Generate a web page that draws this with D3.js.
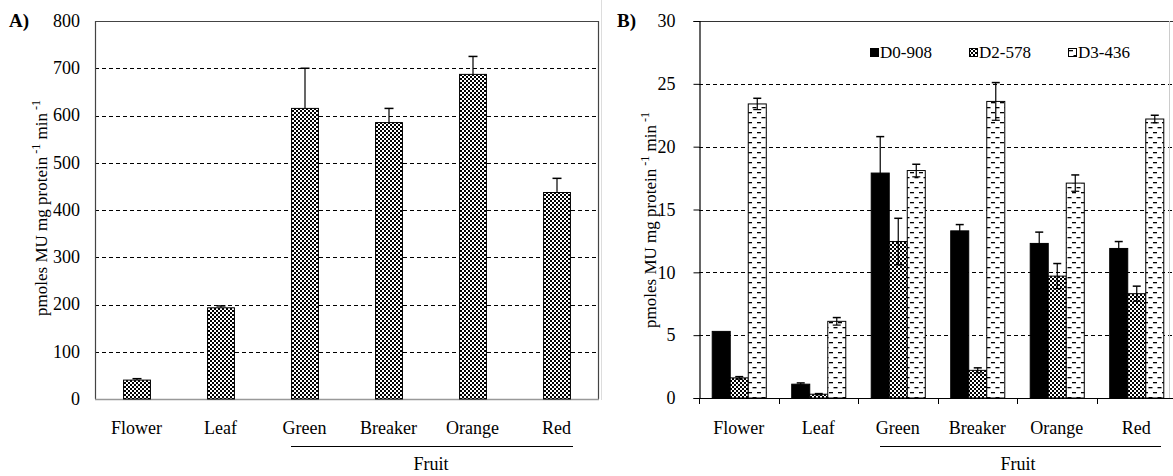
<!DOCTYPE html>
<html>
<head>
<meta charset="utf-8">
<script src="https://cdn.jsdelivr.net/npm/d3@7"></script>
<style>
  body { margin: 0; background: #fff; }
  svg { display: block; font-family: "Liberation Serif", "Times New Roman", serif; }
</style>
</head>
<body>
<svg width="1173" height="476"></svg>
<script>
// categories
const categories = ["Flower", "Leaf", "Green", "Breaker", "Orange", "Red"];

// panel A values
const valuesA = [40, 193, 615, 585, 687, 437];
const errorsA = [3, 4, 85, 30, 38, 30];
const ticksA = [0, 100, 200, 300, 400, 500, 600, 700, 800];

// panel B series
const seriesB = ["D0-908", "D2-578", "D3-436"];
const valuesD0 = [5.3, 1.1, 17.9, 13.3, 12.3, 11.9];
const errorsD0 = [0, 0.1, 2.9, 0.5, 0.9, 0.55];
const valuesD2 = [1.6, 0.3, 12.45, 2.2, 9.7, 8.3];
const errorsD2 = [0.1, 0.05, 1.85, 0.2, 1.0, 0.6];
const valuesD3 = [23.4, 6.1, 18.1, 23.6, 17.1, 22.2];
const errorsD3 = [0.45, 0.3, 0.5, 1.5, 0.65, 0.3];
const ticksB = [0, 5, 10, 15, 20, 25, 30];

const FS = 18; // main font size

const svg = d3.select("svg");
const defs = svg.append("defs");

// checker pattern
const checker = defs.append("pattern")
    .attr("id", "checker")
    .attr("patternUnits", "userSpaceOnUse")
    .attr("width", 4).attr("height", 4);
checker.append("rect").attr("width", 4).attr("height", 4).attr("fill", "#000");
checker.append("rect").attr("x", 0).attr("y", 0).attr("width", 2).attr("height", 2).attr("fill", "#fff");
checker.append("rect").attr("x", 2).attr("y", 2).attr("width", 2).attr("height", 2).attr("fill", "#fff");

// dash pattern (D3-436)
const dash = defs.append("pattern")
    .attr("id", "dash")
    .attr("patternUnits", "userSpaceOnUse")
    .attr("width", 9).attr("height", 10);
dash.append("rect").attr("width", 9).attr("height", 10).attr("fill", "#fff");
dash.append("rect").attr("x", 1).attr("y", 2).attr("width", 4).attr("height", 1.3).attr("fill", "#000");
dash.append("rect").attr("x", 5.5).attr("y", 7).attr("width", 4).attr("height", 1.3).attr("fill", "#000");
dash.append("rect").attr("x", -3.5).attr("y", 7).attr("width", 4).attr("height", 1.3).attr("fill", "#000");

/////////////// PANEL A
const yA = d3.scaleLinear().domain([0, 800]).range([399, 21]);
const xA = d3.scaleBand().domain(categories).range([94.5, 598.5])
    .paddingInner(0.68).paddingOuter(0.34);
const stepA = d3.scaleBand().domain(categories).range([94.5, 598.5]);

const gA = svg.append("g");

// gridlines
gA.append("g").selectAll("line")
    .data(ticksA.filter(t => t > 0 && t < 800))
    .join("line")
    .attr("x1", 95).attr("x2", 598)
    .attr("y1", d => Math.round(yA(d)) + 0.5).attr("y2", d => Math.round(yA(d)) + 0.5)
    .attr("stroke", "#000").attr("stroke-width", 1.2)
    .attr("stroke-dasharray", "4,3");

// frame
gA.append("path")
    .attr("d", `M95.5,${yA(0)}V${yA(800) + 0.5}H598.5V${yA(0)}`)
    .attr("fill", "none").attr("stroke", "#444").attr("stroke-width", 1.2);
gA.append("line")
    .attr("x1", 95).attr("x2", 599)
    .attr("y1", yA(0) + 0.5).attr("y2", yA(0) + 0.5)
    .attr("stroke", "#999").attr("stroke-width", 1.5);

// tick labels
gA.append("g").selectAll("text")
    .data(ticksA)
    .join("text")
    .attr("x", 80).attr("y", d => yA(d))
    .attr("dy", "0.33em")
    .attr("text-anchor", "end")
    .attr("font-size", FS)
    .text(d => d);

// bars
gA.append("g").selectAll("rect")
    .data(valuesA)
    .join("rect")
    .attr("x", (d, i) => xA(categories[i]) + 0.5)
    .attr("y", d => yA(d))
    .attr("width", xA.bandwidth())
    .attr("height", d => yA(0) - yA(d))
    .attr("fill", "url(#checker)")
    .attr("stroke", "#000").attr("stroke-width", 1);

// error bars (upper only)
const errA = gA.append("g").selectAll("g")
    .data(valuesA)
    .join("g");
errA.append("line")
    .attr("x1", (d, i) => xA(categories[i]) + xA.bandwidth() / 2 + 0.5)
    .attr("x2", (d, i) => xA(categories[i]) + xA.bandwidth() / 2 + 0.5)
    .attr("y1", d => yA(d))
    .attr("y2", (d, i) => yA(d + errorsA[i]))
    .attr("stroke", "#000").attr("stroke-width", 1.2);
errA.append("line")
    .attr("x1", (d, i) => xA(categories[i]) + xA.bandwidth() / 2 - 4)
    .attr("x2", (d, i) => xA(categories[i]) + xA.bandwidth() / 2 + 5)
    .attr("y1", (d, i) => yA(d + errorsA[i]))
    .attr("y2", (d, i) => yA(d + errorsA[i]))
    .attr("stroke", "#000").attr("stroke-width", 1.5);

// category labels
gA.append("g").selectAll("text")
    .data(categories)
    .join("text")
    .attr("x", d => stepA(d) + stepA.bandwidth() / 2)
    .attr("y", 434)
    .attr("text-anchor", "middle")
    .attr("font-size", FS)
    .text(d => d);

gA.append("line")
    .attr("x1", 291).attr("x2", 573)
    .attr("y1", 446.5).attr("y2", 446.5)
    .attr("stroke", "#000").attr("stroke-width", 1.2);
gA.append("text")
    .attr("x", 431).attr("y", 470)
    .attr("text-anchor", "middle")
    .attr("font-size", FS)
    .text("Fruit");

gA.append("text")
    .attr("x", 9).attr("y", 27)
    .attr("font-size", 19).attr("font-weight", "bold")
    .text("A)");

function yTitle(g, x, y) {
    const t = g.append("text")
        .attr("transform", `translate(${x},${y}) rotate(-90)`)
        .attr("text-anchor", "middle")
        .attr("font-size", 17);
    t.append("tspan").text("pmoles MU mg protein");
    t.append("tspan").attr("dy", -7).attr("font-size", 12).text(" -1");
    t.append("tspan").attr("dy", 7).text(" min");
    t.append("tspan").attr("dy", -7).attr("font-size", 12).text(" -1");
}
yTitle(gA, 47, 208);

/////////////// PANEL B
const yB = d3.scaleLinear().domain([0, 30]).range([398, 21]);
const stepB = d3.scaleBand().domain(categories).range([699, 1176]);
const xB = d3.scaleBand().domain(categories).range([699, 1176])
    .paddingInner(0.32).paddingOuter(0.16);
const xSub = d3.scaleBand().domain(seriesB).range([0, xB.bandwidth()]);

const gB = svg.append("g");

// faint panel border
gB.append("line")
    .attr("x1", 601.5).attr("x2", 601.5).attr("y1", 0).attr("y2", 400)
    .attr("stroke", "#ddd");

gB.append("g").selectAll("line")
    .data(ticksB.filter(t => t > 0 && t < 30))
    .join("line")
    .attr("x1", 699).attr("x2", 1173)
    .attr("y1", d => Math.round(yB(d)) + 0.5).attr("y2", d => Math.round(yB(d)) + 0.5)
    .attr("stroke", "#000").attr("stroke-width", 1.2)
    .attr("stroke-dasharray", "4,3");

// top line and right edge
gB.append("line")
    .attr("x1", 699).attr("x2", 1173)
    .attr("y1", yB(30) + 0.5).attr("y2", yB(30) + 0.5)
    .attr("stroke", "#333").attr("stroke-width", 1.2);
gB.append("line")
    .attr("x1", 1169.5).attr("x2", 1169.5)
    .attr("y1", yB(30)).attr("y2", yB(0))
    .attr("stroke", "#ccc");

// y axis
const axisY = gB.append("g")
    .attr("transform", "translate(699.5,0)")
    .call(d3.axisLeft(yB).tickValues(ticksB).tickSize(6).tickPadding(18));
axisY.select(".domain").attr("stroke", "#000").attr("stroke-width", 1.2);
axisY.selectAll(".tick line").attr("stroke", "#000");
axisY.selectAll("text")
    .attr("font-family", "Liberation Serif")
    .attr("font-size", FS)
    .attr("fill", "#000");

// x baseline and ticks
const boundaries = categories.map(c => stepB(c)).concat([stepB.range()[1]]);
gB.append("line")
    .attr("x1", 699).attr("x2", 1173)
    .attr("y1", yB(0) + 0.5).attr("y2", yB(0) + 0.5)
    .attr("stroke", "#000").attr("stroke-width", 1.2);
gB.append("g").selectAll("line")
    .data(boundaries)
    .join("line")
    .attr("x1", d => Math.round(d) + 0.5).attr("x2", d => Math.round(d) + 0.5)
    .attr("y1", yB(0)).attr("y2", yB(0) + 6)
    .attr("stroke", "#000");

// bars
const bSeries = [
    { key: "D0-908", values: valuesD0, errors: errorsD0, fill: "#000" },
    { key: "D2-578", values: valuesD2, errors: errorsD2, fill: "url(#checker)" },
    { key: "D3-436", values: valuesD3, errors: errorsD3, fill: "url(#dash)" }
];

bSeries.forEach(s => {
    const g = gB.append("g");
    g.selectAll("rect")
        .data(s.values)
        .join("rect")
        .attr("x", (d, i) => xB(categories[i]) + xSub(s.key) + 0.5)
        .attr("y", d => yB(d))
        .attr("width", xSub.bandwidth())
        .attr("height", d => yB(0) - yB(d))
        .attr("fill", s.fill)
        .attr("stroke", "#000").attr("stroke-width", 1);

    const eb = g.selectAll("g.err")
        .data(s.values.map((v, i) => ({ v, e: s.errors[i], c: categories[i] })).filter(d => d.e > 0))
        .join("g").attr("class", "err");
    const cx = d => xB(d.c) + xSub(s.key) + xSub.bandwidth() / 2 + 0.5;
    eb.append("line")
        .attr("x1", cx).attr("x2", cx)
        .attr("y1", d => yB(d.v - d.e))
        .attr("y2", d => yB(d.v + d.e))
        .attr("stroke", "#000").attr("stroke-width", 1.2);
    eb.append("line")
        .attr("x1", d => cx(d) - 4).attr("x2", d => cx(d) + 4)
        .attr("y1", d => yB(d.v + d.e)).attr("y2", d => yB(d.v + d.e))
        .attr("stroke", "#000").attr("stroke-width", 1.5);
    eb.append("line")
        .attr("x1", d => cx(d) - 4).attr("x2", d => cx(d) + 4)
        .attr("y1", d => yB(d.v - d.e)).attr("y2", d => yB(d.v - d.e))
        .attr("stroke", "#000").attr("stroke-width", 1.2);
});

// category labels
gB.append("g").selectAll("text")
    .data(categories)
    .join("text")
    .attr("x", d => stepB(d) + stepB.bandwidth() / 2)
    .attr("y", 434)
    .attr("text-anchor", "middle")
    .attr("font-size", FS)
    .text(d => d);

gB.append("line")
    .attr("x1", 880).attr("x2", 1161)
    .attr("y1", 446.5).attr("y2", 446.5)
    .attr("stroke", "#000").attr("stroke-width", 1.2);
gB.append("text")
    .attr("x", 1018).attr("y", 470)
    .attr("text-anchor", "middle")
    .attr("font-size", FS)
    .text("Fruit");

gB.append("text")
    .attr("x", 617).attr("y", 27)
    .attr("font-size", 19).attr("font-weight", "bold")
    .text("B)");

yTitle(gB, 656, 220);

// legend
const legendX = [870, 969, 1068];
const lg = gB.append("g").selectAll("g")
    .data(bSeries)
    .join("g")
    .attr("transform", (d, i) => `translate(${legendX[i]},48)`);
lg.append("rect")
    .attr("x", 0.5).attr("y", 0.5).attr("width", 8).attr("height", 8)
    .attr("fill", d => d.fill)
    .attr("stroke", "#000");
lg.append("text")
    .attr("x", 10).attr("y", 10)
    .attr("font-size", 17)
    .text(d => d.key);
</script>
</body>
</html>
